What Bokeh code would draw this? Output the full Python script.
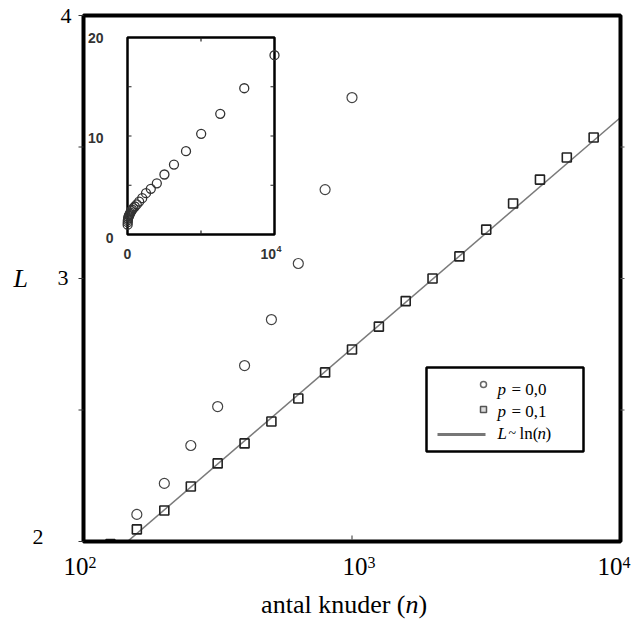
import math

from bokeh.plotting import figure
from bokeh.models import Range1d, LinearScale, Label
from bokeh.embed import file_html
from bokeh.resources import INLINE

# ---------------------------------------------------------------- data ----
# mean path length L against number of nodes n, rewiring probability p = 0.0
n_p00 = [10, 16, 25, 40, 63, 100, 126, 158, 200, 251, 316, 398, 501, 631, 794,
         1000, 1259, 1585, 1995, 2512, 3162, 3981, 5012, 6310, 7943, 10000]
L_p00 = [1.0, 1.25, 1.45, 1.62, 1.78, 1.9, 1.98, 2.103, 2.221, 2.365, 2.513,
         2.669, 2.844, 3.057, 3.338, 3.688, 4.2, 4.64, 5.2, 6.09, 7.1, 8.46,
         10.22, 12.25, 14.85, 18.2]

# rewiring probability p = 0.1
n_p01 = [126, 158, 200, 251, 316, 398, 501, 631, 794, 1000, 1259, 1585, 1995,
         2512, 3162, 3981, 5012, 6310, 7943]
L_p01 = [1.99, 2.046, 2.118, 2.209, 2.297, 2.373, 2.456, 2.544, 2.643, 2.730,
         2.817, 2.914, 3.000, 3.084, 3.186, 3.285, 3.376, 3.460, 3.536]

# logarithmic trend L ~ ln(n), end points of the fitted line
fit_n = [100, 10000]
fit_L = [1.856, 3.612]

# axes of the main panel (log n)
x_lim = [100, 10000]
y_lim = [2, 4]
x_ticks = [100, 1000, 10000]
x_tick_exponents = ["2", "3", "4"]
y_ticks = [2, 2.5, 3, 3.5, 4]
y_tick_labels = ["2", "3", "4"]

# axes of the inset (linear n)
inset_x_lim = [0, 10000]
inset_y_lim = [0, 20]
inset_x_ticks = [5000]
inset_y_ticks = [5, 10, 15]

# ------------------------------------------------------------- layout ----
W, H = 633, 622
FL, FR, FT, FB = 83, 620, 15, 541          # main box edges, canvas px
IL, IR, IT, IB = 127, 274, 37, 234         # inset box edges, canvas px

SERIF = "Liberation Serif"
SANS = "Liberation Sans"


def pixel_range(v0, v1, p0, p1, length):
    """Linear range whose values v0..v1 land on canvas pixels p0..p1."""
    unit = (v1 - v0) / (p1 - p0)
    start = v0 - p0 * unit
    return Range1d(start=start, end=start + length * unit)


# main log-x range stretched so that x_lim spans the main box
dec_px = (FR - FL) / (math.log10(x_lim[1]) - math.log10(x_lim[0]))
main_x = Range1d(start=10 ** (math.log10(x_lim[0]) - FL / dec_px),
                 end=10 ** (math.log10(x_lim[1]) + (W - FR) / dec_px))
main_y = pixel_range(y_lim[0], y_lim[1], H - FB, H - FT, H)

p = figure(width=W, height=H, x_axis_type="log",
           x_range=main_x, y_range=main_y,
           x_axis_location=None, y_axis_location=None,
           output_backend="svg", toolbar_location=None,
           min_border=0, min_border_left=0, min_border_right=0,
           min_border_top=0, min_border_bottom=0)
p.background_fill_color = "white"
p.border_fill_color = "white"
p.outline_line_color = None
p.grid.visible = False

# "px": canvas pixels (y from the top); "ix"/"iy": inset data space
p.extra_x_ranges = {
    "px": Range1d(0, W),
    "ix": pixel_range(inset_x_lim[0], inset_x_lim[1], IL, IR, W),
}
p.extra_y_ranges = {
    "px": Range1d(H, 0),
    "iy": pixel_range(inset_y_lim[0], inset_y_lim[1], H - IB, H - IT, H),
}
p.extra_x_scales = {"px": LinearScale(), "ix": LinearScale()}
p.extra_y_scales = {"px": LinearScale(), "iy": LinearScale()}

PX = dict(x_range_name="px", y_range_name="px")
INS = dict(x_range_name="ix", y_range_name="iy")

# ---- main panel data
p.line(fit_n, fit_L, line_color="#7a7a7a", line_width=1.5)
p.scatter(n_p01, L_p01, marker="square", size=9, fill_color=None,
          line_color="#222222", line_width=1.6)
p.scatter(n_p00, L_p00, marker="circle", size=10, fill_color=None,
          line_color="#444444", line_width=1.2)

# white margins around the main box hide marks that fall outside it
p.quad(left=[0, 0, 0, FR], right=[W, W, FL, W],
       top=[0, FB, 0, 0], bottom=[FT, H, H, H],
       fill_color="white", line_color=None, level="guide", **PX)

# main box and its ticks
p.quad(left=[FL], right=[FR], top=[FT], bottom=[FB], fill_color=None,
       line_color="black", line_width=4, level="guide", **PX)
p.segment(x0=[FL - 5] * len(y_ticks), x1=[FL] * len(y_ticks),
          y0=y_ticks, y1=y_ticks, x_range_name="px",
          line_color="#333333", line_width=1, level="guide")
p.segment(x0=[FR] * 3, x1=[FR + 4] * 3, y0=y_ticks[1:-1], y1=y_ticks[1:-1],
          x_range_name="px", line_color="#555555", line_width=1,
          level="guide")
p.segment(x0=x_ticks[1:-1], x1=x_ticks[1:-1], y0=[FB - 2], y1=[FB - 6],
          y_range_name="px", line_color="#333333", line_width=1,
          level="guide")

# ---- inset: L against n on linear axes
p.quad(left=[inset_x_lim[0]], right=[inset_x_lim[1]],
       bottom=[inset_y_lim[0]], top=[inset_y_lim[1]],
       fill_color="white", line_color="black", line_width=2.5, **INS)

tick_px = 4
tlx = tick_px * (inset_x_lim[1] - inset_x_lim[0]) / (IR - IL)
tly = tick_px * (inset_y_lim[1] - inset_y_lim[0]) / (IB - IT)
ty = inset_y_ticks
tx = inset_x_ticks
for x0, x1 in [(inset_x_lim[0], inset_x_lim[0] + tlx),
               (inset_x_lim[1] - tlx, inset_x_lim[1])]:
    p.segment(x0=[x0] * len(ty), x1=[x1] * len(ty), y0=ty, y1=ty,
              line_color="#222222", line_width=1.2, **INS)
for y0, y1 in [(inset_y_lim[0], inset_y_lim[0] + tly),
               (inset_y_lim[1] - tly, inset_y_lim[1])]:
    p.segment(x0=tx, x1=tx, y0=[y0] * len(tx), y1=[y1] * len(tx),
              line_color="#222222", line_width=1.2, **INS)

p.scatter(n_p00, L_p00, marker="circle", size=9, fill_color=None,
          line_color="#333333", line_width=1.3, **INS)


# ---- text; (cx, cy) is the canvas position of the text's baseline
def label(cx, cy, text, size, font=SERIF, style="normal", align="left",
          color="black"):
    p.add_layout(Label(x=cx, y=cy - 0.34 * size, text=text, text_font=font,
                       text_font_size=f"{size}px", text_font_style=style,
                       text_align=align, text_baseline="middle",
                       text_color=color, **PX))


# main x tick labels: 10 with a raised exponent
for left, exp in zip([63, 342, 597], x_tick_exponents):
    label(left, 574, "10", 25)
    label(left + 25, 567, exp, 16)

# main y tick labels
for right, base, txt in zip([43, 68, 71], [544, 285, 23], y_tick_labels):
    label(right, base, txt, 22, align="right")

# axis titles
label(13, 287, "L", 26, style="italic")
label(405, 613, "antal knuder (", 26, align="right")
label(405, 613, "n", 26, style="italic")
label(418, 613, ")", 26)

# inset tick labels
ink = dict(font=SANS, style="bold", color="#333333")
label(103, 42, "20", 14, align="right", **ink)
label(103, 142, "10", 14, align="right", **ink)
label(113, 242, "0", 14, align="right", **ink)
label(127, 258, "0", 14, align="center", **ink)
label(260, 258, "10", 14, **ink)
label(276, 252, "4", 9, **ink)

# ---- legend
p.quad(left=[426], right=[583], top=[367], bottom=[451],
       fill_color="white", line_color="black", line_width=2.5, **PX)
p.scatter([483], [384], marker="circle", size=6, fill_color=None,
          line_color="#666666", line_width=1.5, **PX)
p.scatter([483], [409], marker="square", size=6, fill_color="#dddddd",
          line_color="#555555", line_width=1.5, **PX)
p.line([437, 485], [434, 434], line_color="#777777", line_width=3, **PX)

label(497, 395, "p", 17, style="italic")
label(511, 395, "= 0,0", 17)
label(497, 417, "p", 17, style="italic")
label(511, 417, "= 0,1", 17)
label(497, 439, "L", 17, style="italic")
label(508, 438, "~", 14)
label(519, 439, "ln(", 17)
label(537, 439, "n", 17, style="italic")
label(545, 439, ")", 17)

open("out.html", "w").write(file_html(p, INLINE))
